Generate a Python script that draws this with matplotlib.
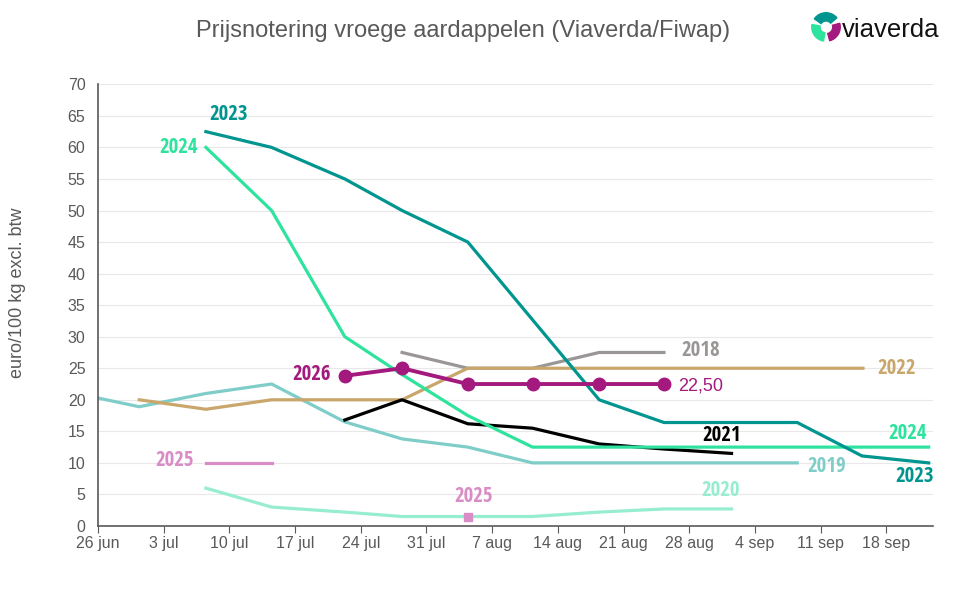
import matplotlib
matplotlib.use("Agg")
import matplotlib.pyplot as plt
from matplotlib import font_manager as fm
from matplotlib.patches import Wedge

# x = days since 26 jun
tick_days = [0, 7, 14, 21, 28, 35, 42, 49, 56, 63, 70, 77, 84]
tick_labels = ["26 jun", "3 jul", "10 jul", "17 jul", "24 jul", "31 jul", "7 aug",
               "14 aug", "21 aug", "28 aug", "4 sep", "11 sep", "18 sep"]

x2019 = [-2.6, 4.4, 11.5, 18.5, 26.3, 32.4, 39.4, 46.3, 53.4, 60.3, 67.4, 74.5]
y2019 = [21.1, 18.9, 21.0, 22.5, 16.5, 13.8, 12.5, 10, 10, 10, 10, 10]

x2022 = [4.4, 11.5, 18.5, 26.3, 32.4, 39.4, 46.3, 53.4, 60.3, 67.4, 74.5, 81.5]
y2022 = [20, 18.5, 20, 20, 20, 25, 25, 25, 25, 25, 25, 25]

x2018 = [32.4, 39.4, 46.3, 53.4, 60.3]
y2018 = [27.5, 25, 25, 27.5, 27.5]

x2021 = [26.3, 32.4, 39.4, 46.3, 53.4, 60.3, 67.5]
y2021 = [16.8, 20, 16.2, 15.5, 13, 12.2, 11.5]

x2020 = [11.5, 18.5, 26.3, 32.4, 39.4, 46.3, 53.4, 60.3, 67.5]
y2020 = [6, 3, 2.2, 1.5, 1.5, 1.5, 2.2, 2.7, 2.7]

x2024 = [11.5, 18.5, 26.3, 32.4, 39.4, 46.3, 53.4, 60.3, 67.4, 74.5, 81.4, 88.5]
y2024 = [60, 50, 30, 24, 17.5, 12.5, 12.5, 12.5, 12.5, 12.5, 12.5, 12.5]

x2023 = [11.5, 18.5, 26.3, 32.4, 39.4, 53.4, 60.3, 67.4, 74.5, 81.4, 88.5]
y2023 = [62.5, 60, 55, 50, 45, 20, 16.4, 16.4, 16.4, 11.1, 10]

x2025 = [11.5, 18.5]
y2025 = [10, 10]
x2025b = [39.4]
y2025b = [1.5]

x2026 = [26.3, 32.4, 39.4, 46.3, 53.4, 60.3]
y2026 = [23.8, 25, 22.5, 22.5, 22.5, 22.5]

c2019 = "#7fcdc8"
c2022 = "#c9a66b"
c2018 = "#9b9696"
c2021 = "#000000"
c2020 = "#97edd0"
c2024 = "#2ee39d"
c2023 = "#00958f"
c2025 = "#d98cc6"
c2026 = "#a3197e"
grey = "#595959"

plt.rcParams['font.family'] = ['Liberation Sans', 'DejaVu Sans']
lab_prop = fm.FontProperties(family=['Open Sans Condensed', 'Liberation Sans'],
                             weight='bold', size=15)

fig = plt.figure(figsize=(9.67, 5.90), dpi=100)
ax = fig.add_axes([0.1013, 0.1085, 0.8639, 0.7486])

lw = 2.3
ax.plot(x2019, y2019, color=c2019, lw=lw, zorder=2)
ax.plot(x2022, y2022, color=c2022, lw=lw, zorder=3)
ax.plot(x2018, y2018, color=c2018, lw=lw, zorder=2)
ax.plot(x2021, y2021, color=c2021, lw=lw, zorder=3)
ax.plot(x2020, y2020, color=c2020, lw=lw, zorder=3)
ax.plot(x2024, y2024, color=c2024, lw=lw, zorder=3)
ax.plot(x2023, y2023, color=c2023, lw=lw, zorder=4)
ax.plot(x2025, y2025, color=c2025, lw=lw, zorder=3)
ax.plot(x2025b, y2025b, 's', color=c2025, ms=6, zorder=5)
ax.plot(x2026, y2026, color=c2026, lw=2.8, marker='o', ms=9, zorder=6)

ax.set_xlim(0, 89)
ax.set_ylim(0, 70)
ax.set_yticks(range(0, 71, 5))
ax.set_xticks(tick_days)
ax.set_xticklabels(tick_labels)
ax.tick_params(axis='both', colors=grey, labelsize=11.5)
ax.tick_params(axis='y', length=0, pad=9)
ax.tick_params(axis='x', length=5, color=grey, pad=2)
ax.grid(axis='y', color='#e8e8e8', lw=0.8)
ax.set_axisbelow(True)
for s in ['top', 'right']:
    ax.spines[s].set_visible(False)
for s in ['left', 'bottom']:
    ax.spines[s].set_color(grey)
    ax.spines[s].set_linewidth(1.2)
ax.set_ylabel("euro/100 kg excl. btw", color=grey, fontsize=13)
ax.yaxis.set_label_coords(-0.086, 0.528)


def lab(txt, x, y, dx, dy, c, ha='left', va='center'):
    ax.annotate(txt, (x, y), xytext=(dx, dy), textcoords='offset pixels',
                ha=ha, va=va, color=c, fontproperties=lab_prop,
                annotation_clip=False)


lab("2023", x2023[0], y2023[0], 23, 17, c2023, ha='center')
lab("2024", x2024[0], y2024[0], -8, 0, c2024, ha='right')
lab("2025", x2025[0], y2025[0], -12, 2, c2025, ha='right')
lab("2026", x2026[0], y2026[0], -14, 1, c2026, ha='right')
lab("2025", x2025b[0], y2025b[0], 6, 20, c2025, ha='center')
lab("2018", x2018[-1], y2018[-1], 17, 2, c2018)
lab("2022", x2022[-1], y2022[-1], 14, 0, c2022)
lab("2021", x2021[-1], y2021[-1], -10, 18, c2021, ha='center')
lab("2019", x2019[-1], y2019[-1], 10, -4, c2019)
lab("2020", x2020[-1], y2020[-1], -11, 18, c2020, ha='center')
lab("2024", x2024[-1], y2024[-1], -2, 14, c2024, ha='right')
lab("2023", x2023[-1], y2023[-1], 5, -14, c2023, ha='right')
ax.annotate("22,50", (x2026[-1], y2026[-1]), xytext=(14, -2), textcoords='offset pixels',
            ha='left', va='center', color=c2026, fontsize=13, annotation_clip=False)

fig.text(0.479, 0.948, "Prijsnotering vroege aardappelen (Viaverda/Fiwap)",
         ha='center', va='center', color=grey, fontsize=17)

# logo
fig.text(0.871, 0.949, "viaverda", ha='left', va='center', color='#111111', fontsize=18.5)
lax = fig.add_axes([811 / 967, 1 - 42 / 590, 30 / 967, 30 / 590])
lax.set_xlim(-1, 1)
lax.set_ylim(-1, 1)
lax.set_aspect('equal')
lax.axis('off')
lax.add_patch(Wedge((0.0, 0.0), 0.95, 40, 145, width=0.55, color='#00958f'))
lax.add_patch(Wedge((0.0, 0.0), 0.95, 170, 260, width=0.55, color='#2ee39d'))
lax.add_patch(Wedge((0.0, 0.0), 0.95, 285, 15, width=0.5, color='#a3197e'))

fig.savefig("out.png", dpi=100)
